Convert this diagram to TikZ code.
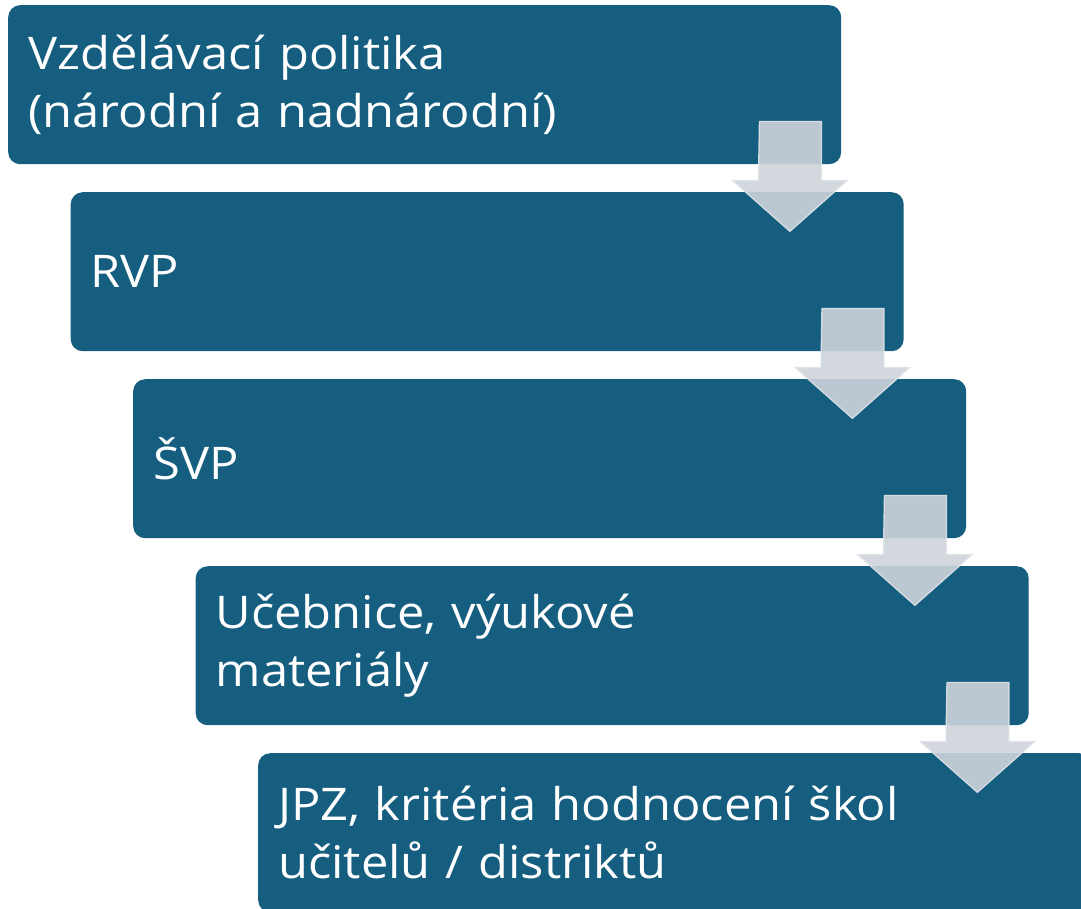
\documentclass[tikz,border=0pt]{standalone}
\usepackage{fontspec}
\setmainfont{Open Sans}[FakeStretch=1.085]
\usetikzlibrary{calc}
\definecolor{boxblue}{RGB}{22,94,128}
\definecolor{arrowfill}{RGB}{206,212,218}
\definecolor{arrowedge}{RGB}{225,229,233}
\tikzset{
  stagebox/.style={fill=boxblue, draw=none, rounded corners=12pt, anchor=north west,
    minimum width=833pt, minimum height=159pt, text width=793pt, inner xsep=20pt, inner ysep=0pt,
    align=left, text=white, font=\fontsize{45}{58}\selectfont},
  blockarrow/.style={fill=arrowfill, fill opacity=0.9, draw=arrowedge, draw opacity=0.9, line width=1.2pt, line join=miter}
}
% #1 = box name above; arrow drawn relative to its south east corner
\newcommand{\downblock}[1]{%
  \path[blockarrow] ($(#1.south east)+(-82,-43)$) -- ++(62,0) -- ++(0,59) -- ++(26,0)
     -- ++(-57.5,51) -- ++(-57.5,-51) -- ++(26,0) -- cycle;}
\begin{document}
\begin{tikzpicture}[x=1pt,y=-1pt]
\useasboundingbox (0,0) rectangle (1081,908);
\clip (0,0) rectangle (1081,908);
\node[stagebox] (b1) at (8,5) {Vzdělávací politika\\(národní a nadnárodní)};
\node[stagebox] (b2) at (70.5,192) {RVP};
\node[stagebox] (b3) at (133,379) {ŠVP};
\node[stagebox] (b4) at (195.5,566) {Učebnice, výukové\\materiály};
\node[stagebox] (b5) at (258,753) {JPZ, kritéria hodnocení škol\\učitelů / distriktů};
\downblock{b1}
\downblock{b2}
\downblock{b3}
\downblock{b4}
\end{tikzpicture}
\end{document}
